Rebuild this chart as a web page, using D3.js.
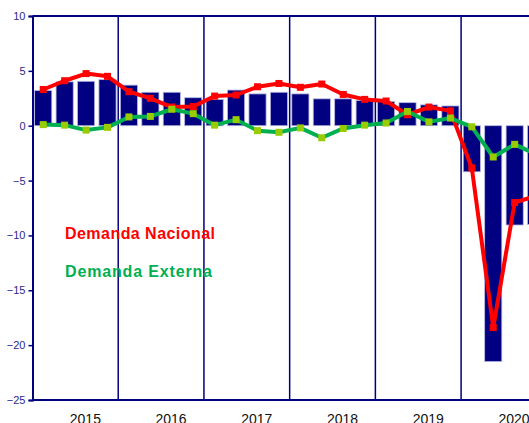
<!DOCTYPE html>
<html>
<head>
<meta charset="utf-8">
<script src="https://cdn.jsdelivr.net/npm/d3@7"></script>
<style>
  body { margin: 0; background: #fff; overflow: hidden; }
  svg { display: block; font-family: Arial, "Liberation Sans", sans-serif; }
</style>
</head>
<body>
<div id="chart"></div>
<script>
/* data, quarterly 2015Q1 .. 2020Q4 */
const years = [2015, 2016, 2017, 2018, 2019, 2020];
const yTicks = [10, 5, 0, -5, -10, -15, -20, -25];

const pbi = [3.2, 4.0, 4.05, 4.2,
             3.7, 3.05, 3.05, 2.55,
             2.4, 3.25, 2.9, 3.05,
             2.9, 2.45, 2.45, 2.3,
             2.2, 2.1, 1.9, 1.8,
             -4.2, -21.5, -9.05, -9.0];

const demandaNacional = [3.3, 4.1, 4.75, 4.5,
                         3.1, 2.5, 1.7, 1.75,
                         2.7, 2.8, 3.55, 3.85,
                         3.5, 3.8, 2.85, 2.4,
                         2.25, 1.0, 1.7, 1.35,
                         -3.85, -18.4, -7.0, -6.4];

const demandaExterna = [0.1, 0.05, -0.4, -0.15,
                        0.8, 0.85, 1.5, 1.1,
                        0.05, 0.55, -0.45, -0.6,
                        -0.2, -1.1, -0.25, 0.05,
                        0.25, 1.3, 0.35, 0.7,
                        -0.1, -2.85, -1.7, -2.6];

const legendLabels = ["Demanda Nacional", "Demanda Externa"];

const w = 529;
const h = 423;
const plotLeft = 32.5;
const plotTop = 16;
const plotBottom = 400;
const yearW = 85.72;   // plot runs on past the right edge of the window

const navy = "#000080";
const red = "#ff0000";
const green = "#00b050";

const xq = d3.scaleLinear()
    .domain([0, pbi.length])
    .range([plotLeft, plotLeft + yearW * years.length]);

const xYear = d3.scaleLinear()
    .domain([years[0], years[years.length - 1] + 1])
    .range([plotLeft, plotLeft + yearW * years.length]);

const yScale = d3.scaleLinear()
    .domain([-25, 10])
    .range([plotBottom, plotTop]);

const svg = d3.select("#chart")
    .append("svg")
    .attr("width", w)
    .attr("height", h);

// bars
svg.selectAll("rect.bar")
    .data(pbi)
    .enter()
    .append("rect")
    .attr("class", "bar")
    .attr("x", (d, i) => xq(i + 0.1))
    .attr("width", (d, i) => xq(i + 0.9) - xq(i + 0.1))
    .attr("y", d => yScale(Math.max(0, d)))
    .attr("height", d => Math.abs(yScale(d) - yScale(0)))
    .attr("fill", navy)
    .attr("stroke", "#b8b8e0")
    .attr("stroke-width", 0.8);

// year separators
svg.selectAll("line.year")
    .data(years.slice(1).concat([years[years.length - 1] + 1]))
    .enter()
    .append("line")
    .attr("x1", d => xYear(d))
    .attr("x2", d => xYear(d))
    .attr("y1", plotTop)
    .attr("y2", plotBottom)
    .attr("stroke", navy)
    .attr("stroke-width", 1.5);

// top and bottom frame lines
svg.append("line")
    .attr("x1", plotLeft).attr("x2", w + 20)
    .attr("y1", yScale(10)).attr("y2", yScale(10))
    .attr("stroke", navy).attr("stroke-width", 2);
svg.append("line")
    .attr("x1", plotLeft).attr("x2", w + 20)
    .attr("y1", yScale(-25)).attr("y2", yScale(-25))
    .attr("stroke", navy).attr("stroke-width", 2);

// y axis
const yAxis = d3.axisLeft(yScale)
    .tickValues(yTicks)
    .tickSize(4)
    .tickPadding(3);

const gy = svg.append("g")
    .attr("transform", "translate(" + plotLeft + ",0)")
    .call(yAxis);
gy.select(".domain").attr("stroke", navy).attr("stroke-width", 2);
gy.selectAll(".tick line").attr("stroke", navy).attr("stroke-width", 1.5);
gy.selectAll(".tick text")
    .attr("fill", "#2a2a8a")
    .style("font-size", "11px")
    .style("font-family", "Arial, 'Liberation Sans', sans-serif");

// year labels
svg.selectAll("text.year")
    .data(years)
    .enter()
    .append("text")
    .attr("x", d => xYear(d + 0.5) + 10)
    .attr("y", 424)
    .attr("text-anchor", "middle")
    .attr("fill", "#111")
    .style("font-size", "14px")
    .text(d => d);

// lines with square markers
function drawSeries(values, lineColor, markerColor) {
    const line = d3.line()
        .x((d, i) => xq(i + 0.5))
        .y(d => yScale(d))
        .curve(d3.curveLinear);
    svg.append("path")
        .datum(values)
        .attr("d", line)
        .attr("fill", "none")
        .attr("stroke", lineColor)
        .attr("stroke-width", 4)
        .attr("stroke-linejoin", "round");
    svg.append("g")
        .selectAll("rect")
        .data(values)
        .enter()
        .append("rect")
        .attr("x", (d, i) => xq(i + 0.5) - 3.5)
        .attr("y", d => yScale(d) - 3.5)
        .attr("width", 7)
        .attr("height", 7)
        .attr("fill", markerColor);
}

drawSeries(demandaNacional, red, red);
drawSeries(demandaExterna, green, "#99cc00");

// legend labels inside the plot
svg.append("text")
    .attr("x", 65).attr("y", 239)
    .attr("fill", red)
    .attr("font-weight", "bold")
    .style("font-size", "16px")
    .attr("textLength", 150)
    .attr("lengthAdjust", "spacing")
    .text(legendLabels[0]);

svg.append("text")
    .attr("x", 65).attr("y", 277)
    .attr("fill", green)
    .attr("font-weight", "bold")
    .style("font-size", "16px")
    .attr("textLength", 147)
    .attr("lengthAdjust", "spacing")
    .text(legendLabels[1]);
</script>
</body>
</html>
